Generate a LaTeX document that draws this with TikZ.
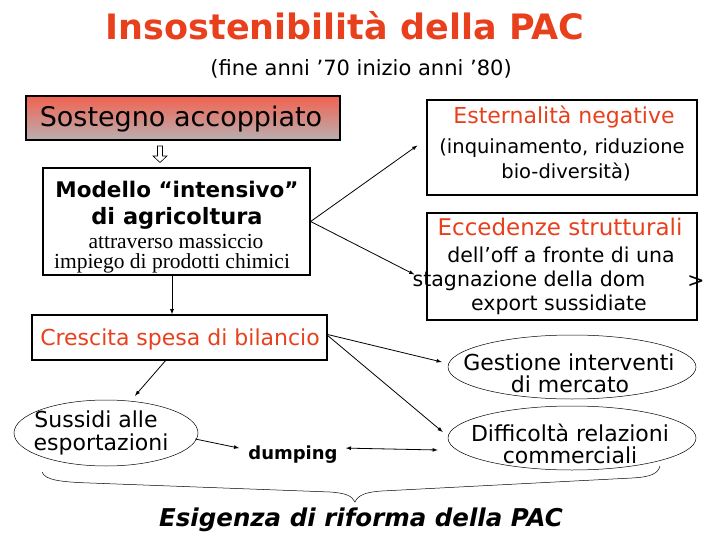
\documentclass[tikz,border=0pt]{standalone}
\usepackage{fontspec}
\setmainfont{DejaVu Sans}
\newfontfamily\timesface{Liberation Serif}
\usetikzlibrary{arrows}
\usetikzlibrary{shapes}
\usetikzlibrary{shapes.geometric}
\usetikzlibrary{calc}
\definecolor{pacred}{RGB}{232,64,28}
\definecolor{boxred}{RGB}{242,98,80}
\definecolor{boxgray}{RGB}{184,176,178}
\tikzset{
  frame/.style={draw,line width=1.3pt,inner sep=0pt},
  oval/.style={draw,ellipse,line width=0.5pt,inner sep=0pt},
  link/.style={-latex,line width=0.8pt},
  txt/.style={inner sep=0pt,anchor=base},
}
\newcommand{\fs}[1]{\fontsize{#1}{#1}\selectfont}

\begin{document}
\begin{tikzpicture}[x=1pt,y=-1pt]
\useasboundingbox (0,0) rectangle (720,540);
% titolo
\node[txt] (title) at (345,40) {\fs{35}\bfseries\color{pacred}Insostenibilità della PAC};
\node[txt] (sub) at (361,76) {\fs{21}(fine anni ’70 inizio anni ’80)};
% riquadri
\node[frame,minimum width=314,minimum height=44,top color=boxred,bottom color=boxgray] (sost) at (183,118) {};
\node[txt] (sostT) at (181,127) {\fs{27}Sostegno accoppiato};
\node[frame,minimum width=267,minimum height=107] (mod) at (176.5,221.5) {};
\node[txt] (mod1) at (177,198) {\fs{21.5}\bfseries Modello “intensivo”};
\node[txt] (mod2) at (177,225) {\fs{22.5}\bfseries di agricoltura};
\node[txt] (mod3) at (176,248) {\timesface\fs{21.5}attraverso massiccio};
\node[txt] (mod4) at (172,268) {\timesface\fs{21.5}impiego di prodotti chimici};
\node[frame,minimum width=270,minimum height=95] (ext) at (562,147.5) {};
\node[txt] (ext1) at (564,124) {\fs{22}\color{pacred}Esternalità negative};
\node[txt] (ext2) at (562,154) {\fs{19.5}(inquinamento, riduzione};
\node[txt] (ext3) at (566,179) {\fs{19.5}bio-diversità)};
\node[frame,minimum width=270,minimum height=107] (ecc) at (562,266.5) {};
\node[txt] (ecc1) at (560,236) {\fs{23}\color{pacred}Eccedenze strutturali};
\node[txt] (ecc2) at (561,262) {\fs{20.5}dell’off a fronte di una};
\node[txt] (ecc3) at (529,286) {\fs{20.5}stagnazione della dom};
\node[txt] (ecc4) at (696,287) {\fs{20.5}>};
\node[txt] (ecc5) at (559,310) {\fs{20.5}export sussidiate};
\node[frame,minimum width=295,minimum height=45] (cres) at (179.5,337.5) {};
\node[txt] (cresT) at (180,345) {\fs{22}\color{pacred}Crescita spesa di bilancio};
\node[oval,minimum width=184,minimum height=66] (suss) at (106,433) {};
\node[txt] (suss1) at (96,427) {\fs{22}Sussidi alle};
\node[txt] (suss2) at (101,450) {\fs{22}esportazioni};
\node[txt] (dump) at (293,459) {\fs{18}\bfseries dumping};
\node[oval,minimum width=248,minimum height=64] (gest) at (572,367) {};
\node[txt] (gest1) at (569,370) {\fs{22}Gestione interventi};
\node[txt] (gest2) at (570,392) {\fs{22}di mercato};
\node[oval,minimum width=248,minimum height=64] (diff) at (572,438) {};
\node[txt] (diff1) at (570,441) {\fs{22}Difficoltà relazioni};
\node[txt] (diff2) at (570,463) {\fs{22}commerciali};
\node[txt] (rif) at (361,526) {\fs{24.5}\bfseries\itshape Esigenza di riforma della PAC};
% freccia vuota
\draw[line width=0.6pt,fill=white] (157.5,146) -- (162.5,146) -- (162.5,156) -- (167,156) -- (160,162.5) -- (153,156) -- (157.5,156) -- cycle;
% collegamenti
\draw[link] (mod.south -| 172,0) -- (cres.north -| 172,0);
\draw[link] (mod.east) -- ($(ext.west)+(-9,-2)$);
\draw[link] (mod.east) -- ($(ecc.west)+(-12,8)$);
\draw[link] ($(cres.south)+(-14,0)$) -- ($(suss.north)+(29,-4)$);
\draw[link] ($(cres.east)+(0,-3)$) -- ($(gest.west)+(-6,-5)$);
\draw[link] ($(cres.east)+(0,-2)$) -- ($(diff.west)+(-5,-6)$);
\draw[link] ($(suss.east)+(-3,6)$) -- ($(dump.west)+(-9,-6)$);
\draw[latex-latex,line width=0.8pt] ($(dump.east)+(8,-6)$) -- ($(diff.west)+(-10,12)$);
% graffa
\draw[line width=0.5pt] (42,472) .. controls (45,480) and (60,482) .. (90,483) -- (330,492)
  .. controls (346,493) and (352,496) .. (355,502) .. controls (358,495) and (366,492) .. (382,491)
  -- (632,478) .. controls (650,477) and (658,474) .. (660,466);
\end{tikzpicture}
\end{document}
